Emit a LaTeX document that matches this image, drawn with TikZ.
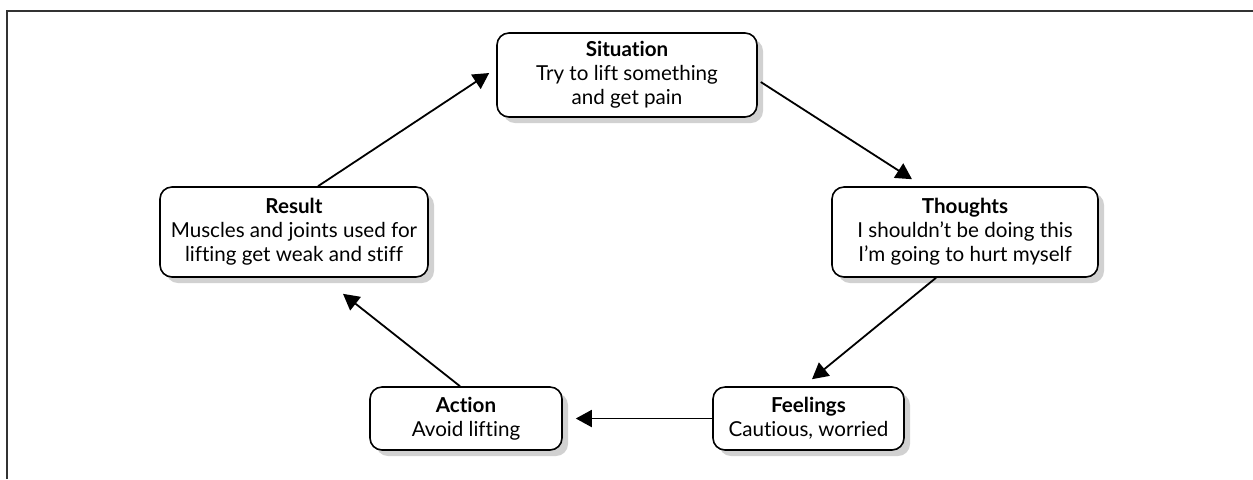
\documentclass[tikz,border=0pt]{standalone}
\usepackage{fontspec}
\setmainfont{Lato}[Ligatures={NoCommon}]
\usetikzlibrary{arrows.meta,shadows,calc}
\tikzset{
  box/.style={draw, line width=0.8pt, rounded corners=6pt, fill=white, align=center,
    inner sep=0pt, font=\fontsize{10.3}{12}\selectfont,
    drop shadow={shadow xshift=3pt, shadow yshift=-3pt, fill=black!18, opacity=1}},
  arr/.style={line width=0.9pt, -{Triangle[length=8pt,width=8.5pt]}},
  frame/.style={line width=1pt, draw=black!80}
}
\begin{document}
\begin{tikzpicture}[x=0.5pt,y=-0.5pt]
\useasboundingbox (0,0) rectangle (1253,479);
\draw[frame] (7,479) -- (7,11) -- (1253,11);
\node[box, minimum width=130pt, minimum height=42pt] (sit) at (627,75)
  {{\bfseries Situation}\\Try to lift something\\and get pain};
\node[box, minimum width=133pt, minimum height=45pt] (tho) at (965,232)
  {{\bfseries Thoughts}\\I shouldn’t be doing this\\I’m going to hurt myself};
\node[box, minimum width=134pt, minimum height=45pt] (res) at (294,232)
  {{\bfseries Result}\\Muscles and joints used for\\lifting get weak and stiff};
\node[box, minimum width=96pt, minimum height=31.5pt] (act) at (466,418.5)
  {{\bfseries Action}\\Avoid lifting};
\node[box, minimum width=95.5pt, minimum height=31.5pt] (fee) at (808.5,418.5)
  {{\bfseries Feelings}\\Cautious, worried};
\draw[arr] ($(res.north)+(24,0)$) -- ($(sit.west)+(-7,-2)$);
\draw[arr] ($(sit.east)+(3,7)$) -- ($(tho.north)+(-53,-7)$);
\draw[arr] ($(tho.south)+(-29,0)$) -- ($(fee.north)+(3.5,-7)$);
\draw[arr] (fee.west) -- ($(act.east)+(13,0)$);
\draw[arr] ($(act.north)+(-6,0)$) -- ($(res.south)+(49,16)$);
\end{tikzpicture}
\end{document}
